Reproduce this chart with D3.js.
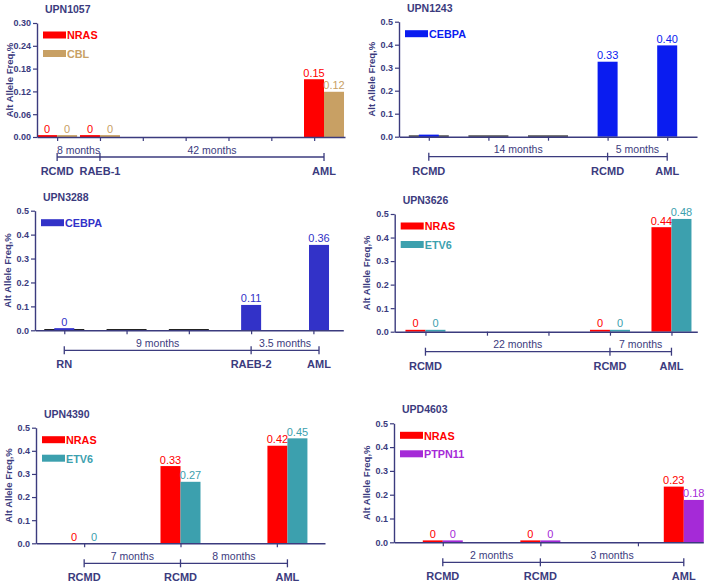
<!DOCTYPE html>
<html><head><meta charset="utf-8">
<script src="https://cdn.jsdelivr.net/npm/d3@7"></script>
<style>body{margin:0;background:#fff}svg{display:block}text{font-family:"Liberation Sans",Arial,sans-serif}</style>
</head><body><svg id="c" width="709" height="584"></svg>
<script>
// ---------- DATA ----------
const titles = ["UPN1057", "UPN1243", "UPN3288", "UPN3626", "UPN4390", "UPD4603"];

// UPN1057
const stages1 = ["RCMD", "RAEB-1", "AML"];
const slots1 = [0, 1, 6.23];
const nras1 = [0.005, 0.005, 0.152];
const cbl1 = [0.005, 0.005, 0.119];
const months1 = ["8 months", "42 months"];
const yTicks1 = [0, 0.06, 0.12, 0.18, 0.24, 0.30];

// UPN1243 (first value unlabelled in the original)
const stages2 = ["RCMD", "RCMD", "AML"];
const slots2 = [0, 3, 4];
const cebpa2 = [0.009, 0.326, 0.397];
const labelled2 = [false, true, true];
const empty2 = [0, 1, 2];
const months2 = ["14 months", "5 months"];

// UPN3288
const stages3 = ["RN", "RAEB-2", "AML"];
const slots3 = [0, 3, 4.09];
const cebpa3 = [0.009, 0.106, 0.357];
const empty3 = [0, 1, 2];
const months3 = ["9 months", "3.5 months"];

// UPN3626
const stages4 = ["RCMD", "RCMD", "AML"];
const slots4 = [0, 3, 4];
const nras4 = [0.008, 0.008, 0.444];
const etv4 = [0.008, 0.008, 0.479];
const months4 = ["22 months", "7 months"];

// UPN4390
const stages5 = ["RCMD", "RCMD", "AML"];
const slots5 = [0, 1, 2.11];
const nras5 = [0, 0.334, 0.422];
const etv5 = [0, 0.266, 0.454];
const months5 = ["7 months", "8 months"];

// UPD4603
const stages6 = ["RCMD", "RCMD", "AML"];
const slots6 = [0, 1, 2.47];
const nras6 = [0.008, 0.008, 0.234];
const ptpn6 = [0.008, 0.008, 0.178];
const months6 = ["2 months", "3 months"];

const yTicksHalf = [0, 0.1, 0.2, 0.3, 0.4, 0.5];

// ---------- STYLE / LAYOUT ----------
const navy = "#3b3b7e";
const C = {NRAS: "#ff0000", CBL: "#c8a064", CEBPA2: "#0a1cf0", CEBPA3: "#3232c8", ETV6: "#3ca0ae", PTPN11: "#a52ad7"};

const panels = [
  {title: titles[0], stages: stages1, slots: slots1, months: months1, yTicks: yTicks1, yMax: 0.30, fmt: ".2f", ticks: d3.range(0, 7), empty: [],
   series: [{name: "NRAS", values: nras1, color: C.NRAS}, {name: "CBL", values: cbl1, color: C.CBL}]},
  {title: titles[1], stages: stages2, slots: slots2, months: months2, yTicks: yTicksHalf, yMax: 0.5, fmt: ".1f", ticks: d3.range(0, 5), empty: empty2,
   series: [{name: "CEBPA", values: cebpa2, color: C.CEBPA2, labelled: labelled2}]},
  {title: titles[2], stages: stages3, slots: slots3, months: months3, yTicks: yTicksHalf, yMax: 0.5, fmt: ".1f", ticks: d3.range(0, 5), empty: empty3,
   series: [{name: "CEBPA", values: cebpa3, color: C.CEBPA3}]},
  {title: titles[3], stages: stages4, slots: slots4, months: months4, yTicks: yTicksHalf, yMax: 0.5, fmt: ".1f", ticks: d3.range(0, 5), empty: [],
   series: [{name: "NRAS", values: nras4, color: C.NRAS}, {name: "ETV6", values: etv4, color: C.ETV6}]},
  {title: titles[4], stages: stages5, slots: slots5, months: months5, yTicks: yTicksHalf, yMax: 0.5, fmt: ".1f", ticks: d3.range(0, 3), empty: [],
   series: [{name: "NRAS", values: nras5, color: C.NRAS}, {name: "ETV6", values: etv5, color: C.ETV6}]},
  {title: titles[5], stages: stages6, slots: slots6, months: months6, yTicks: yTicksHalf, yMax: 0.5, fmt: ".1f", ticks: d3.range(0, 3), empty: [],
   series: [{name: "NRAS", values: nras6, color: C.NRAS}, {name: "PTPN11", values: ptpn6, color: C.PTPN11}]}
];

const layout = [
  {left: 37, right: 345, top: 23, bottom: 137, xlo: -0.47, xhi: 6.72},
  {left: 399, right: 697, top: 21.7, bottom: 136.7, xlo: -0.5, xhi: 4.5},
  {left: 35, right: 343.3, top: 210.7, bottom: 330.3, xlo: -0.47, xhi: 4.48},
  {left: 394.7, right: 697.3, top: 214, bottom: 331.7, xlo: -0.5, xhi: 4.42},
  {left: 36, right: 325, top: 427.7, bottom: 543.3, xlo: -0.5, xhi: 2.5},
  {left: 394, right: 703.3, top: 423.3, bottom: 542.3, xlo: -0.5, xhi: 2.67}
];

const svg = d3.select("#c");
const bw = 20;
const valFmt = v => v < 0.01 ? "0" : d3.format(".2f")(v);

panels.forEach((p, i) => {
  const L = layout[i];
  const g = svg.append("g");
  const x = d3.scaleLinear().domain([L.xlo, L.xhi]).range([L.left, L.right]);
  const y = d3.scaleLinear().domain([0, p.yMax]).range([L.bottom, L.top]);

  // title
  g.append("text").attr("x", L.left + 8).attr("y", L.top - 10)
    .attr("font-size", 10.5).attr("font-weight", "bold").attr("fill", navy).text(p.title);

  // y axis title
  g.append("text")
    .attr("transform", `translate(${L.left - 28},${(L.top + L.bottom) / 2}) rotate(-90)`)
    .attr("text-anchor", "middle").attr("dominant-baseline", "central")
    .attr("font-size", 9.5).attr("font-weight", "bold").attr("fill", navy).text("Alt Allele Freq,%");

  // empty placeholder bars
  g.selectAll("rect.empty").data(p.empty).join("rect").attr("class", "empty")
    .attr("x", d => x(d) - bw).attr("width", bw * 2)
    .attr("y", L.bottom - 1.3).attr("height", 1.3).attr("fill", "#222");

  // bars + value labels
  const n = p.series.length;
  p.series.forEach((s, k) => {
    const off = n === 2 ? (k === 0 ? -bw : 0) : -bw / 2;
    const data = s.values.map((v, j) => ({v, slot: p.slots[j], lab: s.labelled ? s.labelled[j] : true}));
    g.selectAll(null).data(data).join("rect")
      .attr("x", d => x(d.slot) + off).attr("width", bw)
      .attr("y", d => y(d.v)).attr("height", d => y(0) - y(d.v))
      .attr("fill", s.color);
    g.selectAll(null).data(data.filter(d => d.lab)).join("text")
      .attr("x", d => x(d.slot) + off + bw / 2).attr("y", d => y(d.v) - 2.5)
      .attr("text-anchor", "middle").attr("font-size", 11).attr("fill", s.color)
      .text(d => valFmt(d.v));

    // legend
    const ly = L.top + 8.5 + k * 18.5;
    g.append("rect").attr("x", L.left + 6).attr("y", ly).attr("width", 23).attr("height", 7).attr("fill", s.color);
    g.append("text").attr("x", L.left + 30).attr("y", ly + 3.8).attr("dominant-baseline", "central")
      .attr("font-size", 10.8).attr("font-weight", "bold").attr("fill", s.color).text(s.name);
  });

  // y axis
  const ya = g.append("g").attr("transform", `translate(${L.left},0)`)
    .call(d3.axisLeft(y).tickValues(p.yTicks).tickFormat(d3.format(p.fmt)).tickSize(4).tickSizeOuter(0).tickPadding(2));
  // x axis
  const xa = g.append("g").attr("transform", `translate(0,${L.bottom})`)
    .call(d3.axisBottom(x).tickValues(p.ticks).tickFormat("").tickSize(4).tickSizeOuter(0));
  [ya, xa].forEach(a => {
    a.select(".domain").attr("stroke", navy).attr("stroke-width", 1.4);
    a.selectAll(".tick line").attr("stroke", navy).attr("stroke-width", 1.2);
    a.selectAll(".tick text").attr("fill", navy).attr("font-size", 9).attr("font-weight", "bold")
      .attr("font-family", '"Liberation Sans",Arial,sans-serif');
  });

  // timeline bracket
  const by = L.bottom + 20;
  const xs = p.slots.map(s => x(s));
  g.append("line").attr("x1", xs[0]).attr("x2", xs[xs.length - 1]).attr("y1", by).attr("y2", by)
    .attr("stroke", navy).attr("stroke-width", 1.3);
  g.selectAll(null).data(xs).join("line")
    .attr("x1", d => d).attr("x2", d => d).attr("y1", by - 4).attr("y2", by + 4)
    .attr("stroke", navy).attr("stroke-width", 1.3);
  g.selectAll(null).data(p.months).join("text")
    .attr("x", (d, j) => (xs[j] + xs[j + 1]) / 2).attr("y", L.bottom + 12.5)
    .attr("text-anchor", "middle").attr("dominant-baseline", "central")
    .attr("font-size", 10.5).attr("fill", navy).text(d => d);
  g.selectAll(null).data(p.stages).join("text")
    .attr("x", (d, j) => xs[j]).attr("y", L.bottom + 34)
    .attr("text-anchor", "middle").attr("dominant-baseline", "central")
    .attr("font-size", 11).attr("font-weight", "bold").attr("fill", navy).text(d => d);
});
</script></body></html>
